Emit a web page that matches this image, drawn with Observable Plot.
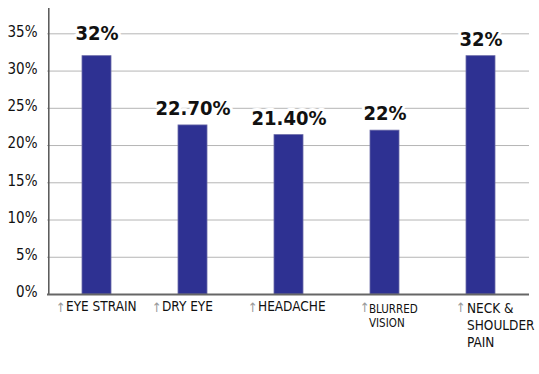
<!DOCTYPE html>
<html>
<head>
<meta charset="utf-8">
<script src="https://cdn.jsdelivr.net/npm/d3@7"></script>
<script src="https://cdn.jsdelivr.net/npm/@observablehq/plot@0.6"></script>
<style>
  html, body { margin: 0; padding: 0; background: #fff; }
  #chart svg { display: block; }
</style>
</head>
<body>
<div id="chart"></div>
<script>
const categories = ["EYE STRAIN", "DRY EYE", "HEADACHE", "BLURRED VISION", "NECK & SHOULDER PAIN"];
const values = [32, 22.7, 21.4, 22, 32];
const valueLabels = ["32%", "22.70%", "21.40%", "22%", "32%"];
const tickLabels = ["EYE STRAIN", "DRY EYE", "HEADACHE", "BLURRED\nVISION", "NECK &\nSHOULDER\nPAIN"];
const yTicks = [0, 5, 10, 15, 20, 25, 30, 35];

const data = categories.map((c, i) => ({cat: c, value: values[i], label: valueLabels[i], tick: tickLabels[i]}));
const single = data.slice(0, 3);
const small = data.slice(3, 4);
const multi = data.slice(4, 5);

const font = "'DejaVu Sans Condensed', 'Liberation Sans Narrow', 'DejaVu Sans', sans-serif";

const labelStyle = {
  x: "cat", y: "value", text: "label",
  fontSize: 20, fontWeight: "bold", fill: "#111",
  stroke: "#fff", strokeWidth: 6, paintOrder: "stroke"
};

const chart = Plot.plot({
  width: 539,
  height: 374,
  marginLeft: 47,
  marginRight: 10,
  marginTop: 8,
  marginBottom: 80,
  style: {fontFamily: font, background: "#fff"},
  x: {domain: categories, paddingInner: 0.7, paddingOuter: 0.35, axis: null},
  y: {domain: [0, 38.4], axis: null},
  marks: [
    Plot.ruleY(yTicks.filter(d => d > 0), {stroke: "#b5b5b5", strokeWidth: 1}),
    Plot.axisY(yTicks, {
      label: null, tickSize: 0, tickPadding: 10, tickFormat: d => d + "%",
      fontSize: 15, fill: "#111", dy: -2
    }),
    Plot.ruleX([categories[0]], {x: d => d, y1: 0, y2: 38.4, stroke: "#555", strokeWidth: 1.5, dx: -48.2}),
    Plot.barY(data, {x: "cat", y: "value", fill: "#2e3192", stroke: "#6a6aa8", strokeWidth: 0.8}),
    Plot.ruleY([0], {stroke: "#666", strokeWidth: 2}),
    Plot.text(data.slice(0, 1), {...labelStyle, dy: -23}),
    Plot.text(data.slice(1), {...labelStyle, dy: -17}),
    // arrows
    Plot.text(single, {
      x: "cat", y: 0, text: () => "↑", lineAnchor: "top",
      dy: 8, textAnchor: "start", fontSize: 13, fill: "#999", dx: -41
    }),
    Plot.text(data.slice(3), {
      x: "cat", y: 0, text: () => "↑", lineAnchor: "top",
      dy: 8, textAnchor: "start", fontSize: 13, fill: "#999", dx: -25
    }),
    Plot.text(single, {
      x: "cat", y: 0, text: "tick", textAnchor: "start", lineAnchor: "top",
      dy: 7, dx: -31, fontSize: 13.5, fill: "#111"
    }),
    Plot.text(small, {
      x: "cat", y: 0, text: "tick", textAnchor: "start", lineAnchor: "top",
      dy: 9, dx: -16, fontSize: 11.5, fill: "#111", lineHeight: 1.2
    }),
    Plot.text(multi, {
      x: "cat", y: 0, text: "tick", textAnchor: "start", lineAnchor: "top",
      dy: 7, dx: -14, fontSize: 13.5, fill: "#111", lineHeight: 1.25
    })
  ]
});
document.getElementById("chart").appendChild(chart);
</script>
</body>
</html>
